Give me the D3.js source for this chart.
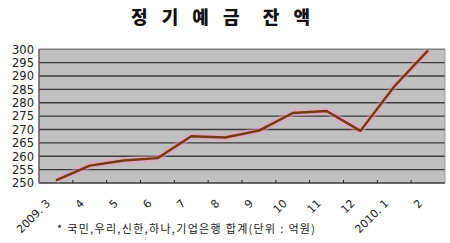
<!DOCTYPE html>
<html>
<head>
<meta charset="utf-8">
<script src="https://cdn.jsdelivr.net/npm/d3@7"></script>
<style>
  body { margin: 0; background: #fff; }
  svg { display: block; }
</style>
</head>
<body>
<div id="chart"></div>
<script>
// 정기예금 잔액: monthly balance, 2009.3 - 2010.2
const months = ["2009. 3", "4", "5", "6", "7", "8", "9", "10", "11", "12", "2010. 1", "2"];
const balance = [251, 256.5, 258.4, 259.3, 267.5, 267.0, 269.6, 276.2, 276.9, 269.5, 286.1, 299.6];
const yTicks = d3.range(250, 301, 5);
const title = "정 기 예 금  잔 액";
const note = "* 국민,우리,신한,하나,기업은행 합계(단위 : 억원)";

const width = 450, height = 243;
const margin = { top: 49.3, right: 5, bottom: 60, left: 39 };

const svg = d3.select("#chart").append("svg")
  .attr("width", width)
  .attr("height", height);

const x = d3.scaleBand().domain(months).range([margin.left, width - margin.right]).padding(0);
const y = d3.scaleLinear().domain([250, 300]).range([height - margin.bottom, margin.top]);

// plot background
svg.append("rect")
  .attr("x", x.range()[0])
  .attr("y", y(300))
  .attr("width", x.range()[1] - x.range()[0])
  .attr("height", y(250) - y(300))
  .attr("fill", "#c0c0c0");

// gridlines
svg.append("g")
  .selectAll("line")
  .data(yTicks)
  .join("line")
  .attr("x1", x.range()[0])
  .attr("x2", x.range()[1])
  .attr("y1", d => y(d))
  .attr("y2", d => y(d))
  .attr("stroke", d => d === 300 ? "#808080" : "#3a3a3a")
  .attr("stroke-width", 1.4);

// left axis + right border
svg.append("line")
  .attr("x1", x.range()[0]).attr("x2", x.range()[0])
  .attr("y1", y(300)).attr("y2", y(250))
  .attr("stroke", "#555").attr("stroke-width", 1.4);
svg.append("line")
  .attr("x1", x.range()[1]).attr("x2", x.range()[1])
  .attr("y1", y(300)).attr("y2", y(250))
  .attr("stroke", "#9a9a9a").attr("stroke-width", 1);

// x tick marks between categories
svg.append("g")
  .selectAll("line")
  .data(months.slice(1))
  .join("line")
  .attr("x1", d => x(d)).attr("x2", d => x(d))
  .attr("y1", y(250) - 3).attr("y2", y(250))
  .attr("stroke", "#222");

// y labels
svg.append("g")
  .selectAll("text")
  .data(yTicks)
  .join("text")
  .attr("x", 34)
  .attr("y", d => y(d) + 4.3)
  .attr("text-anchor", "end")
  .attr("font-family", "DejaVu Sans, sans-serif")
  .attr("font-size", 11.5)
  .attr("fill", "#222")
  .text(d => d);

// x labels, rotated
svg.append("g")
  .selectAll("text")
  .data(months)
  .join("text")
  .attr("transform", d => `translate(${x(d) + x.bandwidth() / 2 - 5},${y(250) + 21}) rotate(-45)`)
  .attr("text-anchor", "end")
  .attr("font-family", "DejaVu Sans, sans-serif")
  .attr("font-size", 11)
  .attr("fill", "#222")
  .text(d => d);

// line
const line = d3.line()
  .x((d, i) => x(months[i]) + x.bandwidth() / 2)
  .y(d => y(d));

svg.append("path")
  .datum(balance)
  .attr("d", line)
  .attr("fill", "none")
  .attr("stroke", "#f59ac0")
  .attr("stroke-opacity", 0.45)
  .attr("stroke-width", 7);

svg.append("path")
  .datum(balance)
  .attr("d", line)
  .attr("fill", "none")
  .attr("stroke", "#743812")
  .attr("stroke-width", 2.4)
  .attr("stroke-linejoin", "round");

// title
svg.append("text")
  .attr("x", 223)
  .attr("y", 24)
  .attr("text-anchor", "middle")
  .attr("font-family", "Noto Sans CJK KR, sans-serif")
  .attr("font-weight", 900)
  .attr("font-size", 18)
  .attr("letter-spacing", 5)
  .attr("fill", "#111")
  .style("white-space", "pre")
  .text(title);

// footnote
svg.append("text")
  .attr("x", 57)
  .attr("y", 233)
  .attr("font-family", "Noto Sans CJK KR, sans-serif")
  .attr("font-size", 11)
  .attr("fill", "#222")
  .attr("textLength", 258)
  .attr("lengthAdjust", "spacing")
  .text(note);
</script>
</body>
</html>
